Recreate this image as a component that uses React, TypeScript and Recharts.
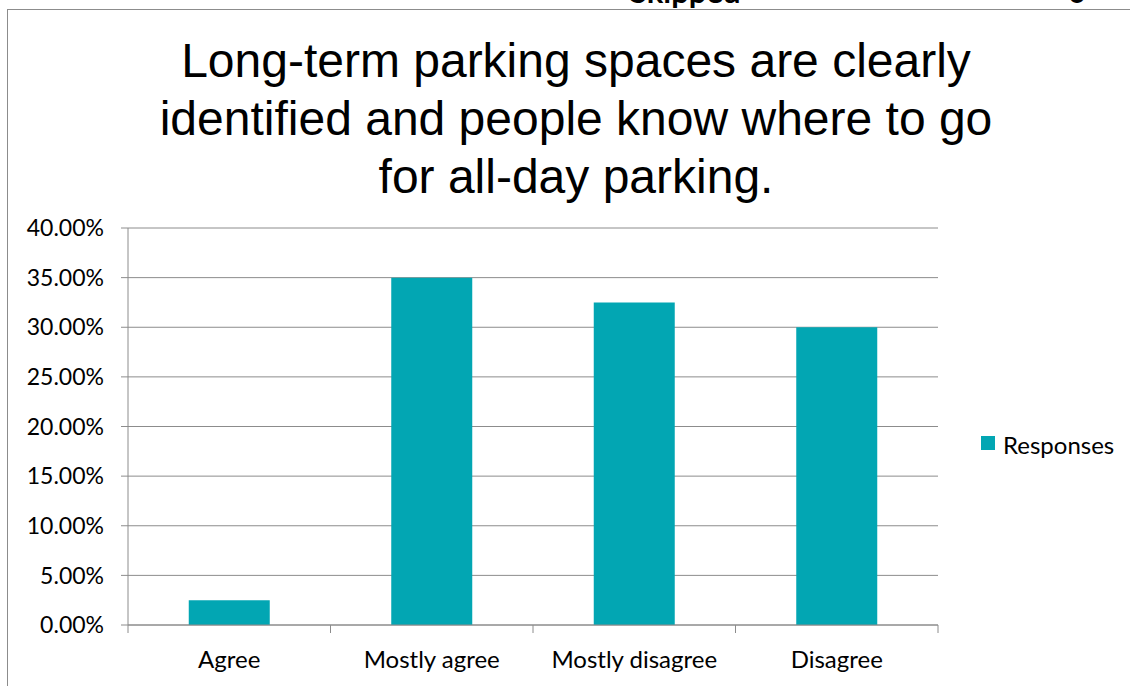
import { BarChart, Bar, XAxis, YAxis, CartesianGrid } from 'recharts'

const categories = ['Agree', 'Mostly agree', 'Mostly disagree', 'Disagree']
const responses = [2.5, 35, 32.5, 30]
const yTicks = [0, 5, 10, 15, 20, 25, 30, 35, 40]
const titleLines = [
  'Long-term parking spaces are clearly',
  'identified and people know where to go',
  'for all-day parking.',
]
const seriesName = 'Responses'

const BAR_COLOR = '#02A6B3'
const AXIS_COLOR = '#8C8C8C'
const LABEL_FONT = 'Lato, "Open Sans", sans-serif'

const chartData = categories.map((name, i) => ({ name, value: responses[i] }))

// category label plus the small tick marks that sit on the band edges
const CategoryTick = (props: any) => {
  const { x, y, payload, index, width, visibleTicksCount } = props
  const half = width / visibleTicksCount / 2
  const last = index === visibleTicksCount - 1
  return (
    <g>
      <line x1={x - half} y1={y} x2={x - half} y2={y + 8} stroke={AXIS_COLOR} />
      {last && <line x1={x + half} y1={y} x2={x + half} y2={y + 8} stroke={AXIS_COLOR} />}
      <text x={x} y={y + 43} textAnchor="middle" fill="#000" fontSize={24} fontFamily={LABEL_FONT}>
        {payload.value}
      </text>
    </g>
  )
}

export default function App() {
  return (
    <div style={{ position: 'fixed', left: 0, top: 0, width: 1130, height: 686, overflow: 'hidden', background: '#fff' }}>
      {/* header text of the page above, cut off by the screenshot */}
      <div style={{ position: 'absolute', left: 630, top: -28, fontFamily: LABEL_FONT, fontWeight: 700, fontSize: 31 }}>
        Skipped
      </div>
      <div style={{ position: 'absolute', left: 1068, top: -28, fontFamily: LABEL_FONT, fontWeight: 700, fontSize: 31 }}>
        0
      </div>

      <div style={{ position: 'absolute', left: 7, top: 9, width: 1200, height: 800, border: `1px solid ${AXIS_COLOR}` }} />

      <div
        style={{
          position: 'absolute',
          left: 0,
          top: 32,
          width: 1152,
          textAlign: 'center',
          fontFamily: 'Arial, "Liberation Sans", sans-serif',
          fontSize: 48,
          lineHeight: '58px',
          color: '#000',
        }}
      >
        {titleLines.map((l) => (
          <div key={l}>{l}</div>
        ))}
      </div>

      <div style={{ position: 'absolute', left: 0, top: 0 }}>
        <BarChart
          width={1130}
          height={686}
          data={chartData}
          margin={{ top: 228, right: 192, bottom: 31, left: 8 }}
          barCategoryGap="30%"
        >
          <CartesianGrid vertical={false} stroke={AXIS_COLOR} strokeWidth={1} />
          <XAxis
            dataKey="name"
            stroke={AXIS_COLOR}
            tickLine={false}
            tickSize={0}
            tickMargin={0}
            tick={<CategoryTick />}
            interval={0}
          />
          <YAxis
            width={120}
            domain={[0, 40]}
            ticks={yTicks}
            tickFormatter={(v: number) => `${v.toFixed(2)}%`}
            stroke={AXIS_COLOR}
            tickSize={7}
            tick={{ fill: '#000', fontSize: 23, fontFamily: LABEL_FONT }}
            tickMargin={17}
          />
          <Bar dataKey="value" name={seriesName} fill={BAR_COLOR} isAnimationActive={false} />
        </BarChart>
      </div>

      <div
        style={{
          position: 'absolute',
          left: 981,
          top: 430,
          display: 'flex',
          alignItems: 'center',
          fontFamily: LABEL_FONT,
          fontSize: 24,
          color: '#000',
        }}
      >
        <span style={{ width: 14, height: 14, background: BAR_COLOR, marginRight: 8, marginTop: -3 }} />
        <span>{seriesName}</span>
      </div>
    </div>
  )
}
